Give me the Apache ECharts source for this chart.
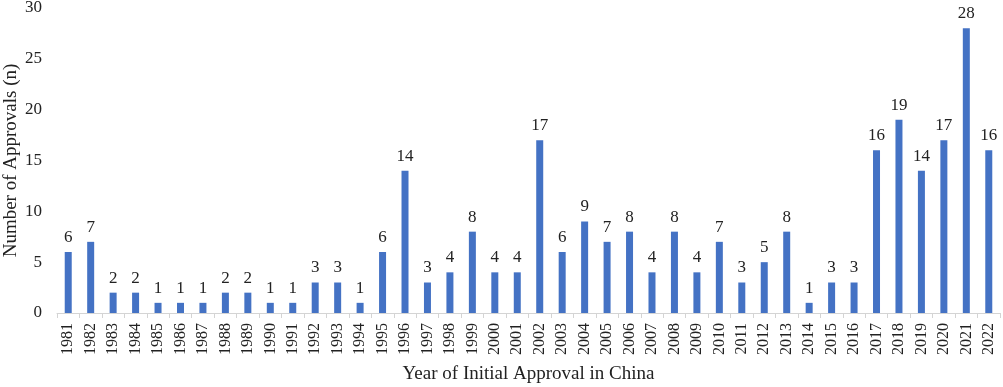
<!DOCTYPE html>
<html>
<head>
<meta charset="utf-8">
<script src="https://cdn.jsdelivr.net/npm/echarts@6/dist/echarts.min.js"></script>
<style>
html,body{margin:0;padding:0;background:#fff;}
#main{width:1003px;height:387px;}
</style>
</head>
<body>
<div id="main"></div>
<script>
// 年份与批准数量
var years=[];
for(var y=1981;y<=2022;y++){ years.push(String(y)); }
var approvals=[6,7,2,2,1,1,1,2,2,1,
	1,3,3,1,6,14,3,4,8,4,
	4,17,6,9,7,8,4,8,4,7,
	3,5,8,1,3,3,16,19,14,17,
	28,16];
var yTicks=[0,5,10,15,20,25,30];

var chart=echarts.init(document.getElementById('main'));
var font='"Liberation Serif","Times New Roman",serif';
var option={
	backgroundColor:'#ffffff',
	animation:false,
	grid:{left:57,right:3,top:8,bottom:74,containLabel:false,outerBoundsMode:'none'},
	xAxis:{
		type:'category',
		data:years,
		name:'Year of Initial Approval in China',
		nameLocation:'middle',
		nameGap:52,
		nameTextStyle:{fontFamily:font,fontSize:19,color:'#222'},
		axisLine:{lineStyle:{color:'#d4d4d4'}},
		axisTick:{show:true,length:5,lineStyle:{color:'#d4d4d4'}},
		axisLabel:{rotate:90,fontFamily:font,fontSize:16,color:'#222',margin:10,interval:0}
	},
	yAxis:{
		type:'value',
		min:yTicks[0],
		max:yTicks[yTicks.length-1],
		interval:5,
		name:'Number of Approvals (n)',
		nameLocation:'middle',
		nameGap:36,
		nameMoveOverlap:false,
		nameTextStyle:{fontFamily:font,fontSize:19,color:'#222'},
		axisLine:{show:false},
		axisTick:{show:false},
		splitLine:{show:false},
		axisLabel:{fontFamily:font,fontSize:17,color:'#222',margin:15}
	},
	series:[{
		type:'bar',
		data:approvals,
		barWidth:7,
		itemStyle:{color:'#4472C4'},
		label:{show:true,position:'top',distance:6,fontFamily:font,fontSize:17,color:'#222'}
	}]
};
chart.setOption(option);
</script>
</body>
</html>
